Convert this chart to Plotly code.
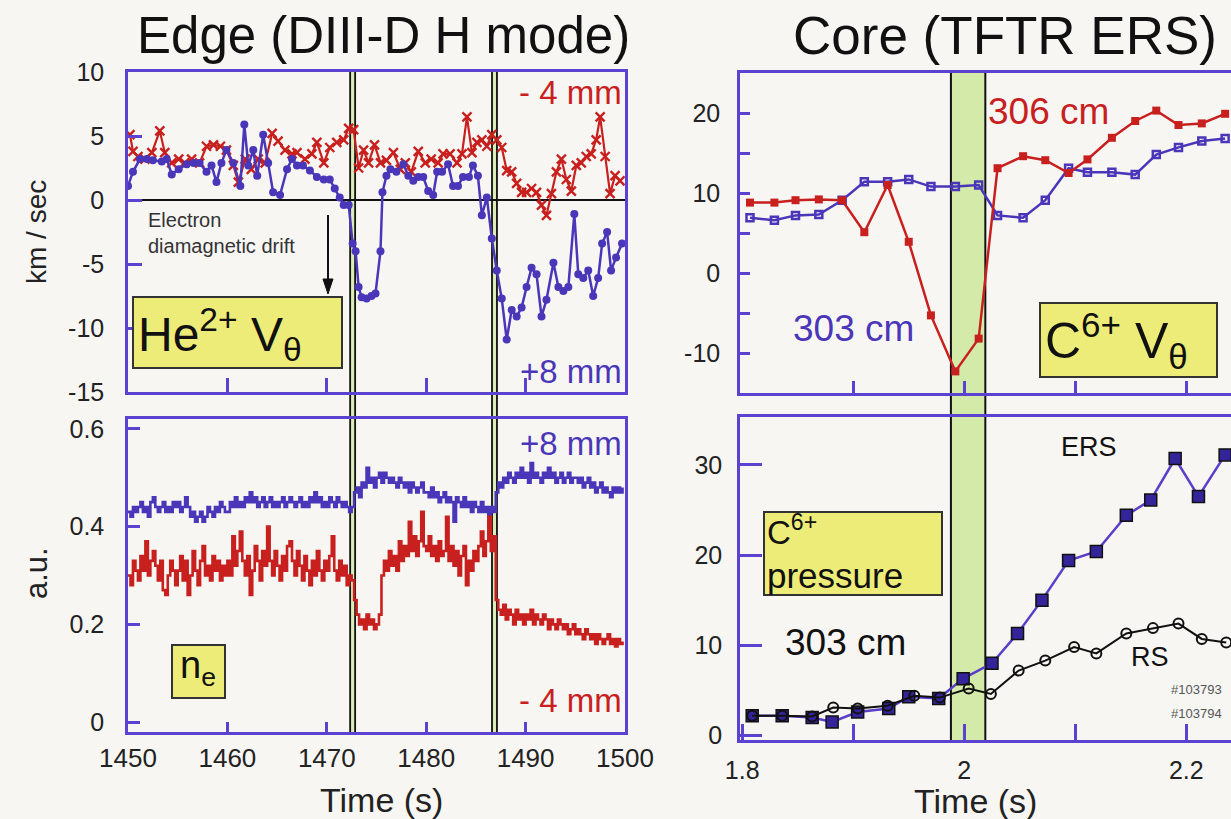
import numpy as np
import plotly.graph_objects as go

W, H = 1231, 819
FONT = "Liberation Sans, Arial, Helvetica, sans-serif"
FRAME = "#5b42d0"
BLUE = "#4a36b8"
RED = "#c8201e"
YELLOW = "#eeec78"
BG = "#f7f6f3"

# ---------------- data: Edge (DIII-D), poloidal velocity (km/s) ----------------
he_plus8_t = [1450.0,1450.5,1451.2,1451.9,1452.5,1453.4,1453.9,1454.4,1455.1,1455.9,
              1456.6,1457.2,1457.9,1458.4,1458.9,1459.4,1459.9,1460.6,1461.3,1461.7,
              1462.1,1462.6,1463.0,1463.6,1464.1,1464.6,1465.3,1466.0,1466.5,1467.0,
              1467.6,1468.3,1469.0,1469.7,1470.3,1470.8,1471.3,1471.7,1472.2,1472.6,
              1472.9,1473.2,1473.5,1474.0,1474.5,1474.9,1475.4,1475.6,1476.0,1476.4,
              1477.0,1477.7,1478.2,1478.7,1479.2,1479.7,1480.2,1480.7,1481.1,1481.6,
              1482.2,1482.7,1483.2,1483.7,1484.3,1484.7,1485.2,1485.6,1486.1,1486.6,
              1487.1,1487.6,1488.1,1488.6,1489.1,1489.6,1490.1,1490.6,1491.1,1491.6,
              1492.1,1492.8,1493.3,1493.8,1494.3,1494.9,1495.3,1495.8,1496.3,1496.8,
              1497.3,1497.7,1498.2,1498.6,1499.1,1499.7]
he_plus8_v = [1.1,2.2,3.2,3.2,3.1,3.0,3.2,2.0,2.4,2.8,
              2.9,2.9,2.2,2.7,1.4,2.9,3.9,2.9,1.1,5.9,
              2.7,3.9,1.9,5.1,2.9,0.6,0.4,2.4,3.2,2.7,
              2.7,2.3,1.8,1.6,1.6,0.9,0.2,-0.4,-0.4,-3.4,
              -4.0,-6.8,-7.6,-7.7,-7.5,-7.3,-4.0,0.6,1.9,2.4,
              2.2,2.8,1.9,1.5,1.8,1.8,0.7,0.4,2.2,2.2,
              2.8,1.1,1.1,1.8,1.8,2.7,1.9,-1.2,0.2,-3.0,
              -5.5,-7.7,-10.9,-8.6,-9.1,-8.4,-6.8,-5.3,-5.8,-9.1,
              -7.8,-4.9,-6.8,-7.1,-6.8,-1.1,-5.8,-6.1,-5.5,-7.5,
              -6.1,-3.4,-2.5,-5.5,-4.5,-3.4]
he_minus4_t = [1450.2,1450.5,1451.0,1451.7,1452.4,1453.2,1453.7,1454.4,1455.1,1455.7,
               1456.4,1457.2,1457.9,1458.6,1459.3,1459.9,1460.6,1461.1,1461.8,1462.4,
               1463.1,1463.8,1464.5,1465.1,1465.8,1466.5,1467.0,1467.8,1468.5,1469.0,
               1469.7,1470.3,1471.0,1471.7,1472.2,1472.7,1473.2,1473.7,1474.2,1474.8,
               1475.4,1476.0,1476.7,1477.4,1477.9,1478.5,1479.2,1479.9,1480.5,1481.2,
               1481.7,1482.4,1483.1,1483.6,1484.1,1484.6,1485.1,1485.6,1486.1,1486.6,
               1487.1,1487.6,1488.1,1488.6,1489.1,1489.6,1490.1,1490.6,1491.1,1491.6,
               1492.1,1492.6,1493.1,1493.6,1494.1,1494.6,1495.1,1495.6,1496.1,1496.6,
               1497.1,1497.5,1498.0,1498.5,1499.0,1499.5]
he_minus4_v = [5.1,3.8,3.4,3.2,3.7,5.4,3.7,2.9,3.2,2.9,
               3.2,2.9,4.2,4.3,4.2,3.9,2.7,1.4,3.2,2.4,
               3.2,2.9,5.2,4.6,3.9,3.6,3.7,3.2,3.6,4.5,
               2.9,4.1,4.5,4.7,5.6,5.5,2.5,3.9,2.9,4.3,
               2.9,3.1,3.7,2.4,2.9,2.2,3.8,2.9,3.2,2.9,
               3.6,3.6,2.9,3.6,6.5,3.7,4.5,4.7,4.2,5.1,
               4.7,4.1,2.3,2.2,1.3,0.6,0.6,0.9,0.6,-0.4,
               -1.2,0.5,2.2,3.2,1.6,0.7,2.7,2.9,3.4,3.6,
               4.7,6.5,3.4,0.5,1.9,1.5]

# ---------------- data: Edge density (a.u.), sampled every 0.25 s from 1450 s ----------------
ne_plus8 = [0.43,0.42,0.44,0.43,0.44,0.45,0.43,0.44,0.42,0.45,0.46,0.44,0.43,0.44,0.45,0.43,0.44,0.43,0.45,0.44,
            0.45,0.43,0.44,0.46,0.44,0.42,0.43,0.41,0.42,0.43,0.41,0.42,0.44,0.43,0.42,0.44,0.43,0.45,0.44,0.43,
            0.43,0.45,0.44,0.46,0.44,0.45,0.44,0.46,0.45,0.47,0.45,0.46,0.44,0.45,0.46,0.44,0.45,0.46,0.44,0.45,
            0.44,0.45,0.46,0.44,0.45,0.46,0.45,0.44,0.45,0.46,0.44,0.45,0.44,0.46,0.45,0.47,0.45,0.46,0.44,0.45,
            0.44,0.46,0.45,0.44,0.46,0.45,0.44,0.45,0.44,0.43,0.44,0.47,0.48,0.46,0.49,0.48,0.52,0.49,0.50,0.48,
            0.50,0.51,0.49,0.51,0.50,0.49,0.50,0.49,0.48,0.50,0.49,0.48,0.49,0.47,0.49,0.48,0.47,0.48,0.49,0.47,
            0.47,0.46,0.48,0.46,0.47,0.45,0.46,0.47,0.45,0.46,0.45,0.41,0.46,0.45,0.44,0.46,0.44,0.45,0.43,0.45,
            0.44,0.43,0.45,0.43,0.44,0.42,0.44,0.43,0.47,0.49,0.48,0.50,0.49,0.51,0.50,0.49,0.51,0.50,0.52,0.50,
            0.51,0.49,0.53,0.50,0.51,0.50,0.49,0.51,0.50,0.52,0.50,0.51,0.49,0.50,0.51,0.49,0.50,0.51,0.49,0.50,
            0.50,0.49,0.50,0.48,0.49,0.50,0.48,0.49,0.47,0.48,0.49,0.47,0.48,0.47,0.46,0.48,0.47,0.48,0.47,0.48]
ne_minus4 = [0.30,0.28,0.33,0.31,0.29,0.34,0.31,0.37,0.30,0.33,0.35,0.32,0.29,0.33,0.27,0.26,0.30,0.33,0.31,0.28,
             0.31,0.34,0.29,0.33,0.26,0.30,0.35,0.31,0.28,0.33,0.36,0.30,0.32,0.29,0.34,0.31,0.33,0.29,0.32,0.30,
             0.33,0.30,0.38,0.32,0.35,0.39,0.33,0.30,0.34,0.26,0.31,0.36,0.33,0.29,0.35,0.32,0.40,0.33,0.30,0.35,
             0.32,0.29,0.34,0.31,0.36,0.37,0.33,0.30,0.35,0.32,0.29,0.34,0.31,0.28,0.33,0.30,0.35,0.31,0.29,0.33,
             0.31,0.34,0.38,0.31,0.29,0.33,0.30,0.32,0.28,0.30,0.29,0.25,0.22,0.20,0.21,0.19,0.22,0.20,0.21,0.19,
             0.20,0.22,0.30,0.33,0.31,0.35,0.32,0.34,0.31,0.37,0.33,0.36,0.34,0.41,0.35,0.38,0.34,0.37,0.43,0.36,
             0.35,0.38,0.34,0.36,0.33,0.37,0.34,0.35,0.42,0.33,0.36,0.32,0.35,0.30,0.34,0.36,0.28,0.33,0.31,0.35,
             0.33,0.36,0.39,0.34,0.37,0.42,0.35,0.38,0.25,0.23,0.22,0.24,0.21,0.23,0.22,0.20,0.23,0.21,0.22,0.20,
             0.22,0.21,0.23,0.20,0.22,0.21,0.20,0.22,0.21,0.19,0.21,0.20,0.19,0.21,0.20,0.19,0.20,0.18,0.19,0.20,
             0.18,0.19,0.18,0.17,0.19,0.18,0.17,0.18,0.16,0.18,0.17,0.16,0.17,0.18,0.16,0.17,0.155,0.17,0.16,0.165]
ne_t0, ne_dt = 1450.0, 0.25

# ---------------- data: Core (TFTR ERS) ----------------
c6_t = [1.807,1.829,1.848,1.869,1.890,1.910,1.931,1.950,1.970,1.992,2.013,
        2.030,2.053,2.073,2.094,2.111,2.133,2.154,2.173,2.193,2.214,2.235]
c6_v306 = [8.8,8.8,9.1,9.2,9.1,5.1,11.0,3.9,-5.3,-12.3,-8.2,
           13.1,14.6,14.1,12.5,14.2,16.9,19.0,20.3,18.5,18.7,19.9]
c6_v303 = [6.9,6.6,7.2,7.3,9.1,11.4,11.4,11.7,10.8,10.8,11.0,
           7.2,6.9,9.1,13.1,12.6,12.6,12.3,14.8,15.7,16.5,16.8]

ers_t = [1.809,1.836,1.863,1.881,1.904,1.932,1.950,1.977,1.999,2.025,
         2.048,2.070,2.094,2.119,2.146,2.168,2.190,2.211,2.235]
ers_p = [2.2,2.2,2.0,1.5,2.6,3.0,4.3,4.1,6.3,8.0,
         11.3,15.0,19.4,20.4,24.4,26.1,30.7,26.5,31.1]
rs_t = [1.809,1.836,1.863,1.882,1.904,1.931,1.955,1.978,2.004,2.024,
        2.049,2.073,2.099,2.119,2.146,2.170,2.193,2.214,2.236]
rs_p = [2.2,2.2,2.1,3.1,3.0,3.3,4.4,4.2,5.2,4.6,
        7.2,8.3,9.8,9.1,11.3,11.9,12.4,10.7,10.3]

# transition windows
edge_trans = [(1472.35, 1472.85), (1486.62, 1487.12)]
core_band = (1.988, 2.019)

# tick labels
edge_v_ticks = [10, 5, 0, -5, -10, -15]
edge_v_text = ["10", "5", "0", "-5", "-10", "-15"]
edge_n_ticks = [0, 0.2, 0.4, 0.6]
edge_n_text = ["0", "0.2", "0.4", "0.6"]
edge_t_ticks = [1450, 1460, 1470, 1480, 1490, 1500]
core_v_ticks = [-10, 0, 10, 20]
core_v_text = ["-10", "0", "10", "20"]
core_v_minor = [-5, 5, 15]
core_p_ticks = [0, 10, 20, 30]
core_t_ticks = [1.8, 2.0, 2.2]
core_t_text = ["1.8", "2", "2.2"]
core_t_minor = [1.9, 2.1]


def px(x):
    return x / W


def py(y):
    return 1 - y / H


ne_t = ne_t0 + ne_dt * np.arange(len(ne_plus8))

fig = go.Figure()

# top-left
fig.add_trace(go.Scatter(x=he_minus4_t, y=he_minus4_v, mode="lines+markers", xaxis="x", yaxis="y",
                         line=dict(color=RED, width=2.2),
                         marker=dict(symbol="x-thin", size=9, color=RED, line=dict(color=RED, width=2.4))))
fig.add_trace(go.Scatter(x=he_plus8_t, y=he_plus8_v, mode="lines+markers", xaxis="x", yaxis="y",
                         line=dict(color=BLUE, width=2.5),
                         marker=dict(symbol="circle", size=8, color=BLUE)))
# bottom-left
fig.add_trace(go.Scatter(x=ne_t, y=ne_plus8, mode="lines", xaxis="x2", yaxis="y2",
                         line=dict(color=BLUE, width=2.6, shape="hv")))
fig.add_trace(go.Scatter(x=ne_t, y=ne_minus4, mode="lines", xaxis="x2", yaxis="y2",
                         line=dict(color=RED, width=2.6, shape="hv")))
# top-right
fig.add_trace(go.Scatter(x=c6_t, y=c6_v303, mode="lines+markers", xaxis="x3", yaxis="y3",
                         line=dict(color=BLUE, width=2.5),
                         marker=dict(symbol="square-open", size=7, color=BLUE, line=dict(width=2.5))))
fig.add_trace(go.Scatter(x=c6_t, y=c6_v306, mode="lines+markers", xaxis="x3", yaxis="y3",
                         line=dict(color=RED, width=2.5),
                         marker=dict(symbol="square", size=8, color=RED)))
# bottom-right
fig.add_trace(go.Scatter(x=ers_t, y=ers_p, mode="lines+markers", xaxis="x4", yaxis="y4",
                         line=dict(color="#5a3fc8", width=2.5),
                         marker=dict(symbol="square", size=12, color="#34249a",
                                     line=dict(color="#111", width=1.5))))
fig.add_trace(go.Scatter(x=rs_t, y=rs_p, mode="lines+markers", xaxis="x4", yaxis="y4",
                         line=dict(color="#111", width=2),
                         marker=dict(symbol="circle-open", size=10, color="#111", line=dict(width=2))))

common = dict(showgrid=False, zeroline=False, showline=True, linecolor=FRAME, linewidth=2.5,
              ticks="inside", tickcolor=FRAME, tickwidth=2.5, automargin=False,
              tickfont=dict(family=FONT, size=25, color="#222"))

LX = [px(128), px(625)]
RX = [px(740), 1.0]

fig.update_layout(
    width=W, height=H, autosize=False,
    margin=dict(l=0, r=0, t=0, b=0, pad=0),
    paper_bgcolor=BG, plot_bgcolor="rgba(0,0,0,0)",
    showlegend=False,
    xaxis=dict(common, domain=LX, anchor="y", range=[1450, 1500], mirror=True,
               tickvals=edge_t_ticks[1:-1], ticklen=14, showticklabels=False),
    yaxis=dict(common, domain=[py(392), py(72)], anchor="x", range=[-15, 10], mirror=True,
               tickvals=edge_v_ticks, ticktext=edge_v_text, ticklen=14, ticklabelstandoff=16),
    xaxis2=dict(common, domain=LX, anchor="y2", range=[1450, 1500], mirror=True,
                tickvals=edge_t_ticks, ticklen=10, ticklabelstandoff=1,
                tickfont=dict(family=FONT, size=26, color="#222")),
    yaxis2=dict(common, domain=[py(732), py(419)], anchor="x2", range=[-0.02, 0.62], mirror=True,
                tickvals=edge_n_ticks, ticktext=edge_n_text, ticklen=12, ticklabelstandoff=16),
    xaxis3=dict(common, domain=RX, anchor="y3", range=[1.798, 2.2403], mirror=True,
                tickvals=[1.9, 2.0, 2.1, 2.2], ticklen=12, showticklabels=False),
    yaxis3=dict(common, domain=[py(393), py(73)], anchor="x3", range=[-15, 25], mirror=False,
                tickvals=core_v_ticks, ticktext=core_v_text, ticklen=10, ticklabelstandoff=12,
                minor=dict(tickvals=core_v_minor, ticks="inside", ticklen=10, tickwidth=2.5,
                           tickcolor=FRAME)),
    xaxis4=dict(common, domain=RX, anchor="y4", range=[1.798, 2.2403], mirror=True,
                tickvals=core_t_ticks, ticktext=core_t_text, ticklen=16, ticklabelstandoff=6,
                minor=dict(tickvals=core_t_minor, ticks="inside", ticklen=16, tickwidth=2.5,
                           tickcolor=FRAME)),
    yaxis4=dict(common, domain=[py(740), py(417)], anchor="x4", range=[-0.5, 35.3], mirror=False,
                tickvals=core_p_ticks, ticklen=22, ticklabelstandoff=10),
)

shapes = []
# zero line
shapes.append(dict(type="line", xref="x", yref="y", x0=1450, x1=1500, y0=0, y1=0,
                   line=dict(color="#111", width=2), layer="below"))
# edge transition markers (double black lines)
for a, b in edge_trans:
    shapes.append(dict(type="rect", xref="x", yref="paper", x0=a, x1=b, y0=py(733), y1=py(71),
                       fillcolor="#dcecb8", line=dict(color="#111", width=1.8), layer="below"))
# core ERS transition band
shapes.append(dict(type="rect", xref="x3", yref="paper", x0=core_band[0], x1=core_band[1],
                   y0=py(741), y1=py(72), fillcolor="#d4eaa8", line=dict(color="#111", width=2),
                   layer="below"))
# yellow label boxes (pixel boxes, paper coordinates)
for (x0, y0, x1, y1) in [(133, 297, 342, 368), (172, 645, 225, 698),
                         (1040, 303, 1217, 377), (764, 512, 942, 595)]:
    shapes.append(dict(type="rect", xref="paper", yref="paper", x0=px(x0), x1=px(x1),
                       y0=py(y1), y1=py(y0), fillcolor=YELLOW, line=dict(color="#333", width=2),
                       layer="above"))
# electron diamagnetic drift arrow: shaft + head
shapes.append(dict(type="line", xref="paper", yref="paper", x0=px(328), x1=px(328),
                   y0=py(283), y1=py(215), line=dict(color="#111", width=2)))
shapes.append(dict(type="path", xref="paper", yref="paper",
                   path="M %f %f L %f %f L %f %f Z" % (px(323), py(279), px(333), py(279), px(328), py(294)),
                   fillcolor="#111", line=dict(color="#111", width=1)))
fig.update_layout(shapes=shapes)

ann = []


def text(x, y, s, size, color="#111", **kw):
    d = dict(x=px(x), y=py(y), xref="paper", yref="paper", text=s, showarrow=False,
             font=dict(family=FONT, size=size, color=color), xanchor="center", yanchor="middle")
    d.update(kw)
    ann.append(d)


text(383, 36, "Edge (DIII-D H mode)", 51)
text(1005, 36, "Core (TFTR ERS)", 53)
text(36, 232, "km / sec", 28, color="#222", textangle=-90)
text(36, 573, "a.u.", 31, color="#222", textangle=-90)
text(382, 800, "Time (s)", 34, color="#222")
text(976, 801, "Time (s)", 34, color="#222")
text(624, 92, "- 4 mm", 33, color=RED, xanchor="right")
text(624, 372, "+8 mm", 33, color=BLUE, xanchor="right")
text(624, 443, "+8 mm", 33, color=BLUE, xanchor="right")
text(624, 700, "- 4 mm", 33, color=RED, xanchor="right")
text(146, 233, "Electron<br>diamagnetic drift", 20, color="#333", xanchor="left", align="left")
text(853, 328, "303 cm", 37, color=BLUE)
text(1048, 112, "306 cm", 37, color=RED)
text(845, 642, "303 cm", 37)
text(1089, 447, "ERS", 27)
text(1150, 657, "RS", 27)
text(1169, 689, "#103793", 13, color="#555", xanchor="left")
text(1169, 713, "#103794", 13, color="#555", xanchor="left")

# texts inside the yellow boxes
text(136, 334, "He<sup>2+</sup> V<sub>θ</sub>", 48, xanchor="left")
text(198, 668, "n<sub>e</sub>", 38)
text(1043, 340, "C<sup>6+</sup> V<sub>θ</sub>", 50, xanchor="left")
text(765, 530, "C<sup>6+</sup>", 33, xanchor="left")
text(765, 575, "pressure", 35, xanchor="left")

fig.update_layout(annotations=ann)
fig.write_html("out.html")
